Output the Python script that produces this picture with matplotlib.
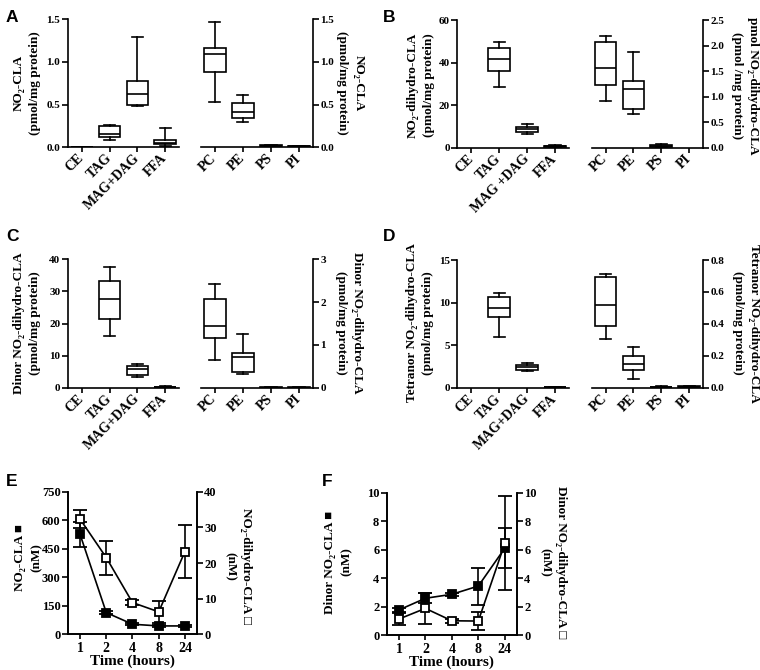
import numpy as np
import matplotlib
matplotlib.use("Agg")
import matplotlib.pyplot as plt
from matplotlib.ticker import FormatStrFormatter

plt.rcParams.update({
    "font.family": ["Liberation Serif", "DejaVu Serif"],
    "font.weight": "bold",
    "axes.linewidth": 1.2,
    "xtick.major.width": 1.2,
    "ytick.major.width": 1.2,
    "xtick.major.size": 3.5,
    "ytick.major.size": 4,
    "xtick.major.pad": 3,
    "ytick.major.pad": 1.5,
})

# categories
neutral = ["CE", "TAG", "MAG+DAG", "FFA"]
neutral_b = ["CE", "TAG", "MAG +DAG", "FFA"]
polar = ["PC", "PE", "PS", "PI"]

# box stats per lipid class: (min, q1, median, q3, max), None = not detected
A_neutral = [(0.0, 0.002, 0.004, 0.006, 0.008), (0.085, 0.115, 0.155, 0.245, 0.26),
             (0.48, 0.50, 0.625, 0.775, 1.29), (0.02, 0.035, 0.055, 0.09, 0.225)]
A_polar = [(0.53, 0.88, 1.09, 1.16, 1.465), (0.295, 0.345, 0.41, 0.52, 0.61),
           (0.005, 0.01, 0.018, 0.025, 0.03), (0.003, 0.006, 0.01, 0.013, 0.016)]

B_neutral = [None, (28.5, 36.0, 41.7, 47.0, 49.5),
             (6.3, 7.2, 8.6, 9.6, 11.0), (0.3, 0.5, 0.7, 1.0, 1.2)]
B_polar = [(0.92, 1.22, 1.57, 2.07, 2.19), (0.667, 0.765, 1.14, 1.30, 1.87),
           (0.01, 0.02, 0.035, 0.05, 0.07), None]

C_neutral = [None, (16.2, 21.4, 27.5, 33.3, 37.5),
             (3.3, 3.9, 5.8, 6.7, 7.5), (0.1, 0.15, 0.25, 0.35, 0.45)]
C_polar = [(0.64, 1.17, 1.45, 2.07, 2.43), (0.33, 0.37, 0.72, 0.82, 1.26),
           (0.0, 0.002, 0.004, 0.006, 0.008), (0.0, 0.002, 0.004, 0.006, 0.008)]

D_neutral = [None, (6.0, 8.25, 9.4, 10.7, 11.1),
             (2.0, 2.07, 2.4, 2.7, 2.93), (0.02, 0.04, 0.05, 0.07, 0.09)]
D_polar = [(0.302, 0.385, 0.518, 0.695, 0.711), (0.056, 0.110, 0.148, 0.196, 0.256),
           (0.002, 0.003, 0.005, 0.007, 0.008), (0.002, 0.004, 0.006, 0.008, 0.011)]

# time course
time_labels = ["1", "2", "4", "8", "24"]
e_cla = [525, 114, 53, 44, 44]
e_cla_err = [65, 8, 6, 5, 4]
e_dihydro = [32.3, 21.5, 8.9, 6.3, 23.2]
e_dihydro_err = [2.5, 4.8, 0.8, 3.0, 7.5]
f_cla = [1.76, 2.58, 2.86, 3.44, 6.1]
f_cla_err = [0.15, 0.35, 0.12, 1.3, 1.4]
f_dihydro = [1.12, 1.87, 1.0, 0.98, 6.44]
f_dihydro_err = [0.45, 1.1, 0.15, 0.65, 3.3]

W, H = 760, 670
fig = plt.figure(figsize=(W / 100, H / 100), dpi=100)


def add_ax(x0, y0, x1, y1):
    ax = fig.add_axes([x0 / W, 1 - y1 / H, (x1 - x0) / W, (y1 - y0) / H])
    ax.set_facecolor("none")
    return ax


def box_group(ax, labels, stats, ymax, step, fmt, side):
    keep = [i for i, s in enumerate(stats) if s is not None]
    bx = [dict(whislo=stats[i][0], q1=stats[i][1], med=stats[i][2],
               q3=stats[i][3], whishi=stats[i][4]) for i in keep]
    line = dict(color="black", linewidth=1.2)
    ax.bxp(bx, positions=keep, widths=0.78, capwidths=0.4, showfliers=False,
           patch_artist=True,
           boxprops=dict(facecolor="white", edgecolor="black", linewidth=1.2),
           whiskerprops=line, capprops=line, medianprops=line)
    ax.set_xlim(-0.5, 3.5)
    ax.set_ylim(0, ymax)
    ax.set_xticks(range(len(labels)))
    ax.set_xticklabels(labels, rotation=45, ha="right", va="center",
                       rotation_mode="anchor", fontsize=10)
    ax.set_yticks(np.arange(0, ymax + step / 2, step))
    ax.yaxis.set_major_formatter(FormatStrFormatter(fmt))
    ax.tick_params(axis="y", labelsize=8)
    ax.spines["top"].set_visible(False)
    if side == "left":
        ax.spines["right"].set_visible(False)
    else:
        ax.spines["left"].set_visible(False)
        ax.yaxis.tick_right()


def ylab(x, y, s, rot, size=9.5):
    fig.text(x / W, 1 - y / H, s, rotation=rot, ha="center", va="center",
             fontsize=size, fontweight="bold", linespacing=1.5)


def letter(x, y, s):
    fig.text(x / W, 1 - y / H, s, fontsize=12.5, fontweight="bold",
             family="Liberation Sans", ha="left", va="center")


# panel A
box_group(add_ax(68, 19.3, 179, 147.3), neutral, A_neutral, 1.5, 0.5, "%.1f", "left")
box_group(add_ax(200.7, 19.3, 313, 147.3), polar, A_polar, 1.5, 0.5, "%.1f", "right")
ylab(27, 83, "NO\u2082-CLA\n(pmol/mg protein)", 90)
ylab(350, 83, "NO\u2082-CLA\n(pmol/mg protein)", 270)
letter(6, 17, "A")

# panel B
box_group(add_ax(457.3, 20, 569, 147.7), neutral_b, B_neutral, 60, 20, "%d", "left")
box_group(add_ax(591.7, 20, 703, 147.7), polar, B_polar, 2.5, 0.5, "%.1f", "right")
ylab(421, 85, "NO\u2082-dihydro-CLA\n(pmol/mg protein)", 90)
ylab(745, 86, "pmol NO\u2082-dihydro-CLA\n(pmol /mg protein)", 270)
letter(383, 17, "B")

# panel C
box_group(add_ax(68, 259.3, 179, 387.7), neutral, C_neutral, 40, 10, "%d", "left")
box_group(add_ax(200.7, 259.3, 313, 387.7), polar, C_polar, 3, 1, "%d", "right")
ylab(27, 323, "Dinor NO\u2082-dihydro-CLA\n(pmol/mg protein)", 90)
ylab(349, 323, "Dinor NO\u2082-dihydro-CLA\n(pmol/mg protein)", 270)
letter(6, 237, "C")

# panel D
box_group(add_ax(457.3, 260, 569, 387.7), neutral, D_neutral, 15, 5, "%d", "left")
box_group(add_ax(591.7, 260, 703, 387.7), polar, D_polar, 0.8, 0.2, "%.1f", "right")
ylab(420, 323, "Tetranor NO\u2082-dihydro-CLA\n(pmol/mg protein)", 90)
ylab(746, 323, "Tetranor NO\u2082-dihydro-CLA\n(pmol/mg protein)", 270)
letter(383, 237, "D")


def time_panel(box, left_y, left_err, right_y, right_err, left_max, left_step,
               right_max, right_step):
    ax = add_ax(*box)
    x = np.arange(len(time_labels))
    style = dict(fmt="-s", color="black", ms=5.5, lw=1.2, elinewidth=1.2,
                 capsize=5, capthick=1.2, mec="black", mew=1.3)
    ax.errorbar(x, left_y, yerr=left_err, mfc="black", **style)
    ax.set_xlim(-0.45, 4.45)
    ax.set_ylim(0, left_max)
    ax.set_yticks(np.arange(0, left_max + left_step / 2, left_step))
    ax.set_xticks(x)
    ax.set_xticklabels(time_labels, fontsize=10)
    ax.tick_params(axis="x", pad=2)
    ax.tick_params(axis="y", labelsize=9)
    ax.set_xlabel("Time (hours)", fontsize=11, fontweight="bold", labelpad=0)
    ax.spines["top"].set_visible(False)
    ax2 = ax.twinx()
    ax2.errorbar(x, right_y, yerr=right_err, mfc="white", **style)
    ax2.set_ylim(0, right_max)
    ax2.set_yticks(np.arange(0, right_max + right_step / 2, right_step))
    ax2.tick_params(axis="y", labelsize=9)
    ax2.spines["top"].set_visible(False)
    return ax, ax2


# panel E
time_panel((68.3, 491.7, 196.7, 634.3), e_cla, e_cla_err, e_dihydro, e_dihydro_err,
           750, 150, 40, 10)
ylab(28, 558, "NO\u2082-CLA \u25a0\n(nM)", 90)
ylab(238, 566, "NO\u2082-dihydro-CLA \u25a1\n(nM)", 270)
letter(6, 482, "E")

# panel F
time_panel((387, 492.7, 516.7, 635), f_cla, f_cla_err, f_dihydro, f_dihydro_err,
           10, 2, 10, 2)
ylab(338, 562, "Dinor NO\u2082-CLA \u25a0\n(nM)", 90)
ylab(553, 562, "Dinor NO\u2082-dihydro-CLA \u25a1\n(nM)", 270)
letter(322, 482, "F")

fig.savefig("out.png", dpi=100, facecolor="white")
